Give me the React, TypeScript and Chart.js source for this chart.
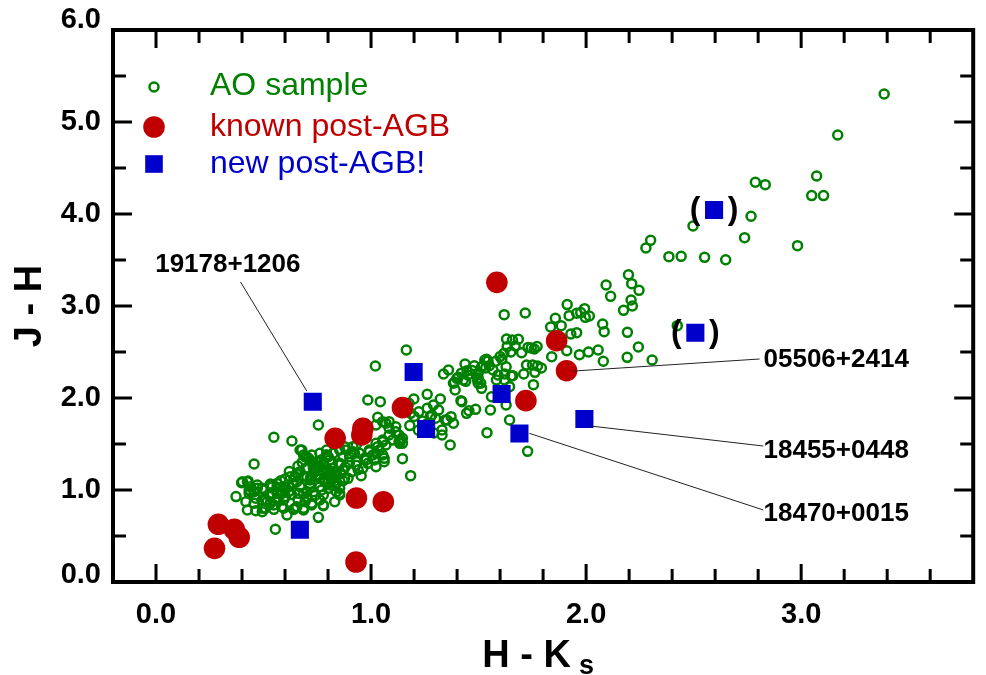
import React, { useEffect, useRef } from 'react';
import { Chart, registerables } from 'chart.js';

Chart.register(...registerables);

const FONT = '"Liberation Sans", Arial, Helvetica, sans-serif';

// ---------- data ----------
const xRange = [-0.2, 3.8];
const yRange = [0, 6];
const xTickValues = [0, 1, 2, 3];
const xTickLabels = ['0.0', '1.0', '2.0', '3.0'];
const yTickValues = [0, 1, 2, 3, 4, 5, 6];
const yTickLabels = ['0.0', '1.0', '2.0', '3.0', '4.0', '5.0', '6.0'];

const seriesNames = ['AO sample', 'known post-AGB', 'new post-AGB!'];

// AO sample: [H-Ks, J-H]
const aoSample: number[][] = [
  [3.386, 5.304], [3.17, 4.859], [2.787, 4.345], [2.833, 4.319], [3.072, 4.413], [3.049, 4.2], [3.104, 4.2],
  [2.767, 3.975], [2.737, 3.743], [2.983, 3.656], [2.497, 3.87], [2.3, 3.714], [2.278, 3.63], [2.385, 3.536],
  [2.442, 3.54], [2.551, 3.529], [2.649, 3.503], [2.197, 3.34], [2.212, 3.243], [2.246, 3.17], [2.093, 3.228],
  [2.114, 3.105], [2.209, 3.065], [2.215, 3.0], [2.174, 2.953], [1.912, 3.015], [1.993, 2.971], [1.975, 2.928],
  [2.015, 2.891], [1.996, 2.877], [1.921, 2.895], [1.956, 2.921], [1.857, 2.866], [1.884, 2.786], [1.835, 2.772],
  [1.619, 2.906], [1.717, 2.924], [2.077, 2.804], [2.084, 2.721], [2.192, 2.714], [1.929, 2.696], [1.956, 2.71],
  [2.243, 2.554], [2.056, 2.522], [2.011, 2.5], [1.969, 2.471], [2.08, 2.399], [2.191, 2.442], [2.307, 2.413],
  [2.424, 2.786], [1.91, 2.514], [1.84, 2.449], [1.759, 2.533], [1.745, 2.543], [1.772, 2.56], [1.73, 2.55],
  [1.63, 2.641], [1.657, 2.63], [1.685, 2.638], [1.633, 2.558], [1.67, 2.565], [1.618, 2.486], [1.7, 2.493],
  [1.608, 2.42], [1.537, 2.42], [1.437, 2.37], [1.36, 2.304], [1.446, 2.297], [1.533, 2.326], [1.498, 2.217],
  [1.498, 2.16], [1.51, 2.16], [1.406, 2.225], [1.388, 2.171], [1.44, 2.181], [1.391, 2.087], [1.621, 2.261],
  [1.659, 2.243], [1.71, 2.261], [1.762, 2.279], [1.774, 2.348], [1.792, 2.326], [1.751, 2.359], [1.723, 2.359],
  [1.755, 2.145], [1.56, 2.014], [1.628, 1.924], [1.555, 1.87], [1.486, 1.877], [1.444, 1.833], [1.455, 1.862],
  [1.418, 1.971], [1.383, 1.725], [1.353, 1.761], [1.372, 1.797], [1.644, 1.761], [1.539, 1.623], [1.368, 1.489],
  [1.728, 1.42], [1.544, 2.402], [1.521, 2.351], [1.498, 2.268], [1.495, 2.196], [1.514, 2.105], [1.567, 2.304],
  [1.59, 2.25], [1.651, 2.239], [1.583, 2.196], [1.644, 2.123], [1.399, 2.214], [1.383, 2.16], [1.337, 2.261],
  [1.422, 1.96], [1.261, 2.04], [1.322, 1.989], [1.29, 1.924], [1.314, 1.87], [1.261, 1.888], [1.222, 1.851],
  [1.276, 1.797], [1.345, 1.761], [1.33, 1.652], [1.33, 1.598], [1.199, 1.989], [1.176, 1.942], [1.164, 2.522],
  [1.02, 2.348], [1.043, 1.96], [0.985, 1.978], [1.031, 1.79], [1.069, 1.725], [1.084, 1.671], [1.115, 1.634],
  [1.138, 1.543], [1.133, 1.507], [1.146, 1.341], [1.184, 1.156], [1.054, 1.543], [1.031, 1.471], [1.054, 1.38],
  [1.061, 1.308], [1.023, 1.399], [1.015, 1.326], [0.992, 1.417], [0.969, 1.344], [0.962, 1.236], [0.954, 1.156],
  [0.931, 1.489], [0.916, 1.417], [0.9, 1.362], [0.877, 1.471], [0.87, 1.362], [0.854, 1.29], [0.87, 1.217],
  [0.839, 1.199], [0.793, 1.38], [0.808, 1.326], [0.778, 1.272], [0.824, 1.127], [0.854, 0.964], [0.831, 0.873],
  [0.778, 0.83], [0.755, 0.703], [0.755, 1.707], [0.678, 1.435], [0.693, 1.362], [0.716, 1.326], [0.747, 1.254],
  [0.732, 1.181], [0.716, 1.109], [0.686, 1.145], [0.655, 1.09], [0.624, 1.145], [0.67, 1.036], [0.686, 0.964],
  [0.693, 0.873], [0.655, 0.818], [0.609, 0.728], [0.594, 0.891], [0.563, 0.964], [0.532, 1.054], [0.502, 1.0],
  [0.471, 1.018], [0.44, 0.982], [0.425, 1.09], [0.398, 1.079], [0.456, 1.283], [0.372, 0.928], [0.418, 0.873],
  [0.456, 0.855], [0.425, 0.783], [0.464, 0.775], [0.497, 0.801], [0.532, 0.855], [0.548, 0.79], [0.586, 0.818],
  [0.64, 0.79], [0.548, 1.573], [0.632, 1.533], [0.555, 0.573], [0.428, 1.098], [0.433, 1.0], [0.532, 1.065],
  [0.563, 1.029], [0.594, 1.036], [0.54, 0.964], [0.509, 0.891], [0.563, 0.891], [0.602, 0.928], [0.647, 0.801],
  [0.686, 0.801], [0.724, 0.855], [0.64, 1.072], [0.67, 1.199], [0.647, 1.145], [0.701, 1.145], [0.732, 1.236],
  [0.778, 1.29], [0.801, 1.362], [0.824, 1.236], [0.854, 1.272], [0.877, 1.127], [0.839, 1.072], [0.854, 1.018],
  [0.854, 0.946], [0.716, 1.036], [0.663, 0.964], [0.701, 0.91], [0.885, 1.435], [0.923, 1.399], [0.992, 1.435],
  [1.023, 1.507], [1.054, 1.525], [1.084, 1.598], [0.985, 1.29], [1.061, 1.344], [1.146, 1.562], [1.13, 1.525],
  [1.184, 1.833], [1.084, 1.743], [0.686, 1.38], [0.709, 1.344], [0.793, 1.435], [0.824, 1.399], [0.778, 1.199],
  [0.801, 1.163], [0.816, 1.109], [0.785, 1.09], [0.762, 1.127], [0.808, 1.054], [0.831, 1.163], [1.429, 2.196],
  [1.513, 2.334], [1.529, 2.413], [1.628, 2.34], [1.621, 2.196], [1.283, 1.815], [1.292, 1.62],
  [0.67, 1.435], [0.701, 1.362], [0.724, 1.38], [0.762, 1.399], [0.793, 1.38], [0.854, 1.435], [0.916, 1.471],
  [0.946, 1.399], [0.977, 1.326], [1.008, 1.38], [1.038, 1.435], [1.069, 1.489], [1.1, 1.543], [1.13, 1.598],
  [1.115, 1.688], [1.054, 1.743], [1.023, 1.707], [1.146, 1.507], [1.023, 1.254], [0.893, 1.127], [0.839, 0.982],
  [0.617, 1.036], [0.701, 0.928], [0.724, 0.837], [0.686, 0.783], [0.762, 1.254], [0.793, 1.217], [0.747, 1.145],
  [0.778, 1.109], [0.839, 1.163], [0.716, 1.072], [0.762, 1.036], [0.801, 1.018], [0.732, 0.982], [0.778, 0.946],
  [0.402, 1.09], [0.44, 1.036], [0.471, 1.054], [0.494, 1.018], [0.456, 0.982], [0.433, 0.964], [0.464, 0.91],
  [0.494, 0.891], [0.517, 0.873], [0.532, 0.928], [0.54, 1.036], [0.563, 1.072], [0.655, 1.181], [0.617, 0.982],
  [0.586, 0.964], [0.563, 0.91], [0.548, 0.837], [0.509, 0.801], [0.494, 0.764], [0.594, 0.801], [0.762, 0.891],
  [0.778, 0.837],
  [0.74, 1.2], [0.76, 1.16], [0.79, 1.24], [0.81, 1.2], [0.82, 1.3], [0.77, 1.33], [0.75, 1.3], [0.73, 1.27],
  [0.8, 1.08], [0.83, 1.05], [0.87, 1.1], [0.86, 1.18], [0.88, 1.25], [0.9, 1.3], [0.93, 1.27], [0.91, 1.2],
  [0.94, 1.22], [0.72, 1.15], [0.7, 1.24], [0.68, 1.3], [0.66, 1.26], [0.62, 1.2], [0.6, 1.12], [0.58, 1.1],
  [0.6, 1.0], [0.63, 0.95], [0.66, 0.9], [0.7, 0.98], [0.74, 0.94], [0.77, 1.0],
  [1.45, 2.25], [1.47, 2.3], [1.42, 2.27], [1.48, 2.35], [1.55, 2.35], [1.58, 2.4], [1.6, 2.45], [1.65, 2.5],
  [1.2, 1.8], [1.24, 1.75], [1.18, 1.7], [1.22, 1.65], [1.26, 1.72], [1.3, 1.78],
];

const knownPostAGB: number[][] = [
  [0.29, 0.627], [0.364, 0.573], [0.387, 0.486], [0.272, 0.366], [0.833, 1.562], [0.962, 1.67], [0.957, 1.598],
  [0.932, 0.913], [1.057, 0.873], [0.93, 0.217], [1.146, 1.895], [1.72, 1.971], [1.585, 3.257], [1.863, 2.623],
  [1.909, 2.297],
];

const newPostAGB: number[][] = [
  [0.729, 1.96], [1.198, 2.283], [1.256, 1.663], [1.607, 2.043], [1.69, 1.614], [1.992, 1.772], [0.669, 0.568],
  [2.508, 2.71], [2.595, 4.043],
];

// new post-AGB candidates shown in parentheses (indices into newPostAGB)
const uncertainNew = [7, 8];

// object labels with leader lines (data coordinates)
const labelNames = ['19178+1206', '05506+2414', '18455+0448', '18470+0015'];
const labelAnchor = [[0.334, 3.446], [2.825, 2.413], [2.825, 1.424], [2.825, 0.739]];
const labelAlign = ['center', 'left', 'left', 'left'];
const leaderFrom = [[0.393, 3.261], [1.943, 2.293], [2.019, 1.696], [1.736, 1.616]];
const leaderTo = [[0.701, 2.076], [2.807, 2.424], [2.824, 1.478], [2.824, 0.783]];

const GREEN = '#008000';
const RED = '#c00000';
const BLUE = '#0000cc';

const toXY = (arr: number[][]) => arr.map(([x, y]) => ({ x, y }));

const decorPlugin = {
  id: 'decor',
  afterDatasetsDraw(chart: any) {
    const { ctx, scales } = chart;
    const xs = scales.x;
    const ys = scales.y;
    ctx.save();
    // leader lines
    ctx.strokeStyle = '#222';
    ctx.lineWidth = 1;
    for (let i = 0; i < labelNames.length; i++) {
      ctx.beginPath();
      ctx.moveTo(xs.getPixelForValue(leaderFrom[i][0]), ys.getPixelForValue(leaderFrom[i][1]));
      ctx.lineTo(xs.getPixelForValue(leaderTo[i][0]), ys.getPixelForValue(leaderTo[i][1]));
      ctx.stroke();
    }
    // labels
    ctx.fillStyle = '#000';
    ctx.font = `bold 26px ${FONT}`;
    ctx.textBaseline = 'middle';
    for (let i = 0; i < labelNames.length; i++) {
      ctx.textAlign = labelAlign[i] as CanvasTextAlign;
      ctx.fillText(labelNames[i], xs.getPixelForValue(labelAnchor[i][0]), ys.getPixelForValue(labelAnchor[i][1]));
    }
    // parentheses
    ctx.font = `bold 32px ${FONT}`;
    ctx.textAlign = 'center';
    uncertainNew.forEach((idx) => {
      const px = xs.getPixelForValue(newPostAGB[idx][0]);
      const py = ys.getPixelForValue(newPostAGB[idx][1]);
      ctx.fillText('(', px - 19, py);
      ctx.fillText(')', px + 19, py);
    });
    ctx.restore();
  },
  afterDraw(chart: any) {
    const { ctx, chartArea: a, scales } = chart;
    const xs = scales.x;
    const ys = scales.y;
    ctx.save();
    // frame
    ctx.strokeStyle = '#000';
    ctx.lineWidth = 4;
    ctx.strokeRect(a.left, a.top, a.right - a.left, a.bottom - a.top);
    // inward ticks
    ctx.lineWidth = 3;
    ctx.beginPath();
    for (let i = 0; i < 19; i++) {
      const v = i / 5;
      const px = xs.getPixelForValue(v);
      const len = i % 5 === 0 ? 18 : 13;
      ctx.moveTo(px, a.bottom);
      ctx.lineTo(px, a.bottom - len);
      ctx.moveTo(px, a.top);
      ctx.lineTo(px, a.top + len);
    }
    for (let j = 1; j < 12; j++) {
      const v = j / 2;
      const py = ys.getPixelForValue(v);
      const len = j % 2 === 0 ? 19 : 13;
      ctx.moveTo(a.left, py);
      ctx.lineTo(a.left + len, py);
      ctx.moveTo(a.right, py);
      ctx.lineTo(a.right - len, py);
    }
    ctx.stroke();

    // tick labels
    ctx.fillStyle = '#000';
    ctx.font = `bold 29px ${FONT}`;
    ctx.textBaseline = 'middle';
    ctx.textAlign = 'center';
    xTickValues.forEach((v, i) => {
      ctx.fillText(xTickLabels[i], xs.getPixelForValue(v), a.bottom + 33);
    });
    ctx.textAlign = 'right';
    yTickValues.forEach((v, i) => {
      let py = ys.getPixelForValue(v);
      if (i === 0) py -= 7;
      if (i === yTickValues.length - 1) py -= 10;
      ctx.fillText(yTickLabels[i], a.left - 12, py);
    });

    // axis titles
    ctx.font = `bold 38px ${FONT}`;
    const main = 'H - K';
    const mw = ctx.measureText(main).width;
    ctx.font = `bold 27px ${FONT}`;
    const sw = ctx.measureText('s').width;
    const startX = (a.left + a.right) / 2 - 5 - (mw + 8 + sw) / 2;
    ctx.textAlign = 'left';
    ctx.textBaseline = 'alphabetic';
    ctx.font = `bold 38px ${FONT}`;
    ctx.fillText(main, startX, a.bottom + 85);
    ctx.font = `bold 27px ${FONT}`;
    ctx.fillText('s', startX + mw + 8, a.bottom + 92);

    ctx.save();
    ctx.translate(31, (a.top + a.bottom) / 2);
    ctx.rotate(-Math.PI / 2);
    ctx.font = `bold 38px ${FONT}`;
    ctx.textAlign = 'center';
    ctx.textBaseline = 'middle';
    ctx.fillText('J - H', 0, 0);
    ctx.restore();

    // legend
    const mx = a.left + 41;
    const tx = a.left + 97;
    ctx.lineWidth = 2.5;
    ctx.strokeStyle = GREEN;
    ctx.beginPath();
    ctx.arc(mx, a.top + 57, 4.5, 0, Math.PI * 2);
    ctx.stroke();
    ctx.fillStyle = RED;
    ctx.beginPath();
    ctx.arc(mx, a.top + 97, 10.8, 0, Math.PI * 2);
    ctx.fill();
    ctx.fillStyle = BLUE;
    ctx.fillRect(mx - 8.8, a.top + 134 - 8.8, 17.6, 17.6);

    ctx.font = `32px ${FONT}`;
    ctx.textAlign = 'left';
    ctx.textBaseline = 'alphabetic';
    ctx.fillStyle = GREEN;
    ctx.fillText(seriesNames[0], tx, a.top + 65);
    ctx.fillStyle = RED;
    ctx.fillText(seriesNames[1], tx, a.top + 106);
    ctx.fillStyle = BLUE;
    ctx.fillText(seriesNames[2], tx, a.top + 143);
    ctx.restore();
  },
};

export default function App() {
  const canvasRef = useRef<HTMLCanvasElement | null>(null);

  useEffect(() => {
    if (!canvasRef.current) return;
    const chart = new Chart(canvasRef.current, {
      type: 'scatter',
      data: {
        datasets: [
          {
            label: seriesNames[2],
            data: toXY(newPostAGB),
            pointStyle: 'rect',
            pointRadius: 12.8,
            backgroundColor: BLUE,
            borderWidth: 0,
            order: 0,
          },
          {
            label: seriesNames[1],
            data: toXY(knownPostAGB),
            pointStyle: 'circle',
            pointRadius: 10.8,
            backgroundColor: RED,
            borderWidth: 0,
            order: 1,
          },
          {
            label: seriesNames[0],
            data: toXY(aoSample),
            pointStyle: 'circle',
            pointRadius: 4.5,
            borderWidth: 2.5,
            borderColor: GREEN,
            backgroundColor: 'rgba(0,0,0,0)',
            order: 2,
          },
        ],
      },
      options: {
        animation: false,
        responsive: true,
        maintainAspectRatio: false,
        events: [],
        layout: { padding: { left: 0, top: 30, right: 4, bottom: 0 } },
        plugins: {
          legend: { display: false },
          tooltip: { enabled: false },
          title: { display: false },
        },
        scales: {
          x: {
            type: 'linear',
            min: xRange[0],
            max: xRange[1],
            grid: { display: false },
            border: { display: false },
            ticks: { display: false },
            afterFit: (s: any) => {
              s.height = 93;
            },
          },
          y: {
            type: 'linear',
            min: yRange[0],
            max: yRange[1],
            grid: { display: false },
            border: { display: false },
            ticks: { display: false },
            afterFit: (s: any) => {
              s.width = 113;
            },
          },
        },
      },
      plugins: [decorPlugin],
    });
    return () => chart.destroy();
  }, []);

  return (
    <div style={{ position: 'absolute', left: 0, top: 0, width: 986, height: 675, background: '#fff' }}>
      <canvas ref={canvasRef} />
    </div>
  );
}
